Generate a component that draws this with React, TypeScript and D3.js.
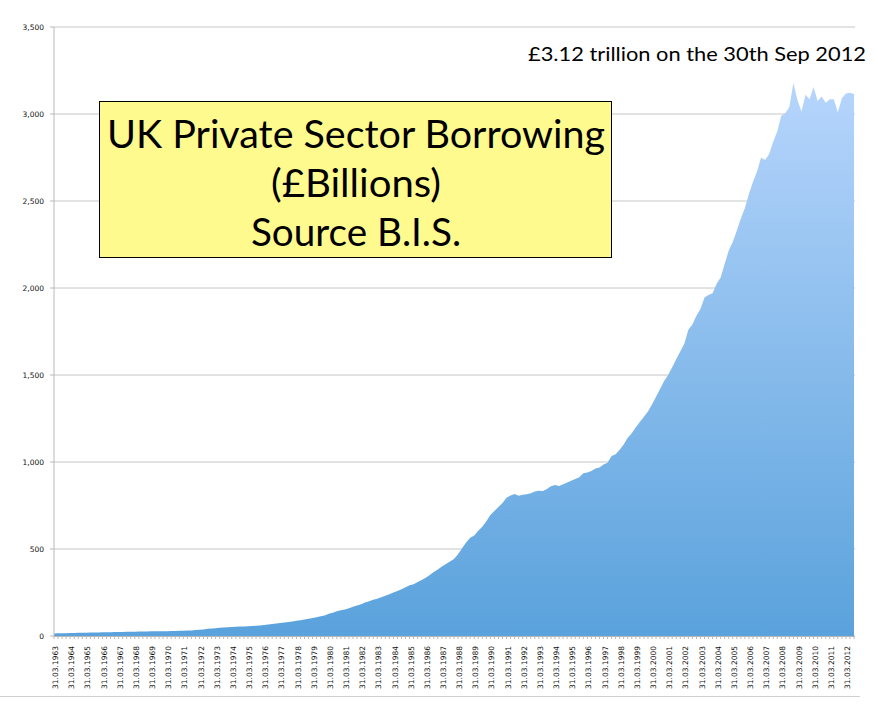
import React from "react";
import * as d3 from "d3";

// Quarterly UK private sector borrowing (£bn), 31.03.1963 .. 30.09.2012
const values: number[] = [
  15, 15.5, 16, 16.5,
  17, 17.5, 18, 18.5,
  19, 19.5, 20, 20.5,
  21, 21.5, 22, 22.5,
  23, 23.5, 24, 24.5,
  25, 25.5, 26, 26.5,
  27, 27, 27.5, 28,
  28, 28.5, 29, 29.5,
  30, 31, 32, 34,
  36, 38, 41, 43,
  45, 47, 49, 51,
  52, 53, 54, 55,
  56, 57, 59, 61,
  63, 66, 69, 72,
  75, 78, 81, 84,
  88, 91, 95, 99,
  104, 108, 113, 118,
  128, 134, 142, 148,
  153, 160, 168, 176,
  183, 192, 200, 208,
  214, 222, 231, 240,
  250, 258, 268, 280,
  291, 298, 310, 322,
  335, 350, 368, 382,
  400, 414, 428, 443,
  470, 505, 538, 565,
  578, 605, 628, 660,
  695, 718, 742, 765,
  795, 808, 816, 806,
  812, 815, 820, 830,
  835, 834, 845, 860,
  868, 862, 872, 882,
  892, 902, 912, 935,
  940, 948, 962, 968,
  985, 995, 1034, 1045,
  1070, 1100, 1140, 1165,
  1200, 1230, 1260, 1290,
  1330, 1375, 1420, 1465,
  1500, 1545, 1590, 1635,
  1680, 1760, 1790, 1840,
  1880, 1945, 1960, 1970,
  2025, 2060, 2140, 2215,
  2265, 2330, 2400, 2460,
  2540, 2610, 2670, 2750,
  2735, 2770, 2840, 2900,
  2990, 3005, 3040, 3180,
  3080, 3015, 3110, 3085,
  3155, 3075, 3100, 3065,
  3085, 3085, 3010, 3090,
  3118, 3122, 3115,
];

const yTicks: number[] = [0, 500, 1000, 1500, 2000, 2500, 3000, 3500];

const labelYears: number[] = [
  1963, 1964, 1965, 1966, 1967, 1968, 1969, 1970, 1971, 1972,
  1973, 1974, 1975, 1976, 1977, 1978, 1979, 1980, 1981, 1982,
  1983, 1984, 1985, 1986, 1987, 1988, 1989, 1990, 1991, 1992,
  1993, 1994, 1995, 1996, 1997, 1998, 1999, 2000, 2001, 2002,
  2003, 2004, 2005, 2006, 2007, 2008, 2009, 2010, 2011, 2012,
];

const titleLines: string[] = ["UK Private Sector Borrowing", "(£Billions)", "Source B.I.S."];
const annotation = "£3.12 trillion on the 30th Sep 2012";

export default function App() {
  const W = 878, H = 706;
  const left = 54, right = 854, top = 27, bottom = 636;
  const x = d3.scaleLinear().domain([0, values.length - 1]).range([left, right]);
  const y = d3.scaleLinear().domain([0, 3500]).range([bottom, top]);
  const area = d3
    .area<number>()
    .x((_, i) => x(i))
    .y0(y(0))
    .y1((d) => y(d));
  const fmt = d3.format(",");
  const peakY = y(d3.max(values) as number);

  return (
    <svg
      width={W}
      height={H}
      style={{ position: "absolute", left: 0, top: 0, background: "#fff" }}
    >
      <defs>
        <linearGradient id="fillGrad" gradientUnits="userSpaceOnUse" x1="0" y1={peakY} x2="0" y2={bottom}>
          <stop offset="0" stopColor="#b6d5fc" />
          <stop offset="1" stopColor="#5aa2dc" />
        </linearGradient>
      </defs>

      {/* gridlines */}
      {yTicks.map((t) => (
        <line key={"g" + t} x1={left} x2={855} y1={y(t)} y2={y(t)} stroke="#c6c6c6" strokeWidth={1} />
      ))}

      {/* area */}
      <path d={area(values) || ""} fill="url(#fillGrad)" />

      {/* y axis */}
      <line x1={left} x2={left} y1={top} y2={bottom} stroke="#b8b8b8" strokeWidth={1} />
      {yTicks.map((t) => (
        <g key={"yt" + t}>
          <line x1={left - 4} x2={left} y1={y(t)} y2={y(t)} stroke="#b8b8b8" />
          <text
            x={44}
            y={y(t)}
            dy="0.35em"
            textAnchor="end"
            fontFamily="'DejaVu Sans', Verdana, sans-serif"
            fontSize={7.5}
            fill="#111"
          >
            {fmt(t)}
          </text>
        </g>
      ))}

      {/* x axis */}
      <line x1={left} x2={855} y1={bottom + 0.5} y2={bottom + 0.5} stroke="#b8b8b8" />
      {values.map((_, i) => (
        <line key={"xt" + i} x1={x(i)} x2={x(i)} y1={bottom} y2={bottom + 3} stroke="#b8b8b8" strokeWidth={1} />
      ))}
      {labelYears.map((yr, k) => {
        const px = x(k * 4) + 1.5;
        return (
          <text
            key={"xl" + yr}
            transform={`translate(${px},646) rotate(-90)`}
            dy="0.35em"
            textAnchor="end"
            fontFamily="'DejaVu Sans', Verdana, sans-serif"
            fontSize={7.5}
            fill="#111"
          >
            {"31.03." + yr}
          </text>
        );
      })}

      {/* bottom separator line */}
      <line x1={0} x2={860} y1={696.5} y2={696.5} stroke="#d0d0d0" strokeWidth={1} />

      {/* title box */}
      <rect x={99.5} y={101.5} width={512} height={156} fill="#fffa8e" stroke="#000" strokeWidth={1} />
      {titleLines.map((s, i) => (
        <text
          key={"t" + i}
          x={356}
          y={148 + i * 49}
          textAnchor="middle"
          fontFamily="Lato, 'Open Sans', sans-serif"
          fontSize={38}
          fill="#000"
          textLength={[498, 170, 210][i]}
          lengthAdjust="spacingAndGlyphs"
        >
          {s}
        </text>
      ))}

      {/* annotation */}
      <text
        x={528}
        y={61}
        fontFamily="Lato, 'Open Sans', sans-serif"
        fontSize={19}
        fill="#000"
        textLength={338}
        lengthAdjust="spacingAndGlyphs"
      >
        {annotation}
      </text>
    </svg>
  );
}
